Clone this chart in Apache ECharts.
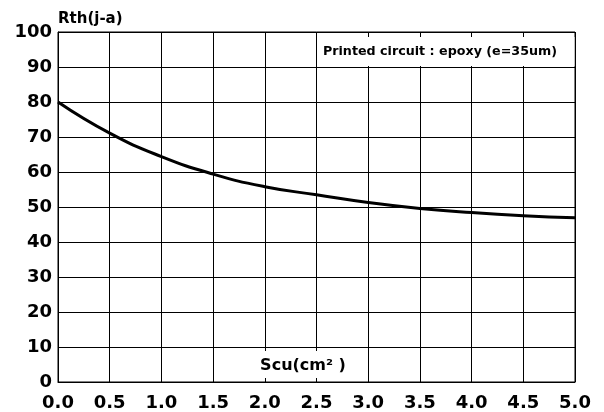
<!DOCTYPE html>
<html>
<head>
<meta charset="utf-8">
<script src="https://cdn.jsdelivr.net/npm/echarts@6/dist/echarts.min.js"></script>
<style>
  html, body { margin: 0; padding: 0; background: #fff; }
  #chart { width: 604px; height: 412px; }
</style>
</head>
<body>
<div id="chart"></div>
<script>
// Rth(j-a) vs copper area
var scu = [0.0, 0.5, 1.0, 1.5, 2.0, 2.5, 3.0, 3.5, 4.0, 4.5, 5.0];
var rth = [80.0, 71.1, 64.4, 59.4, 55.8, 53.5, 51.3, 49.6, 48.4, 47.5, 46.9];

var font = 'DejaVu Sans';

chart01();
function chart01(){
  var myChart = echarts.init(document.getElementById('chart'));
  var points = scu.map(function (x, i) { return [x, rth[i]]; });
  var option = {
    animation: false,
    grid: {
      left: 58,
      right: 29,
      top: 32,
      bottom: 30,
      show: true,
      borderColor: '#000',
      borderWidth: 1
    },
    xAxis: {
      type: 'value',
      min: 0,
      max: 5,
      interval: 0.5,
      axisLine: { lineStyle: { color: '#000', width: 1 } },
      axisTick: { show: false },
      splitLine: { show: true, lineStyle: { color: '#000', width: 1 } },
      axisLabel: {
        color: '#000',
        fontFamily: font,
        fontWeight: 'bold',
        fontSize: 18,
        margin: 12,
        formatter: function (v) { return v.toFixed(1); }
      }
    },
    yAxis: {
      type: 'value',
      min: 0,
      max: 100,
      interval: 10,
      axisLine: { show: true, lineStyle: { color: '#000', width: 1 } },
      axisTick: { show: false },
      splitLine: { show: true, lineStyle: { color: '#000', width: 1 } },
      axisLabel: {
        color: '#000',
        fontFamily: font,
        fontWeight: 'bold',
        fontSize: 18,
        margin: 6
      }
    },
    series: [
      {
        type: 'line',
        data: points,
        smooth: true,
        symbol: 'none',
        lineStyle: { color: '#000', width: 3 },
        z: 5
      }
    ],
    graphic: [
      {
        type: 'text',
        left: 58,
        top: 12,
        style: {
          text: 'Rth(j-a)',
          fill: '#000',
          font: 'bold 15px "DejaVu Sans"'
        }
      },
      {
        type: 'rect',
        shape: { x: 317.5, y: 37, width: 257, height: 29 },
        style: { fill: '#fff' },
        z: 10
      },
      {
        type: 'text',
        x: 440,
        y: 52,
        style: {
          text: 'Printed circuit : epoxy (e=35um)',
          fill: '#000',
          font: 'bold 12.7px "DejaVu Sans"',
          align: 'center',
          verticalAlign: 'middle'
        },
        z: 11
      },
      {
        type: 'rect',
        shape: { x: 258, y: 351, width: 90, height: 27 },
        style: { fill: '#fff' },
        z: 10
      },
      {
        type: 'text',
        x: 303,
        y: 366,
        style: {
          text: 'Scu(cm\u00b2 )',
          fill: '#000',
          font: 'bold 16px "DejaVu Sans"',
          align: 'center',
          verticalAlign: 'middle'
        },
        z: 11
      }
    ]
  };
  myChart.setOption(option);
}
</script>
</body>
</html>
